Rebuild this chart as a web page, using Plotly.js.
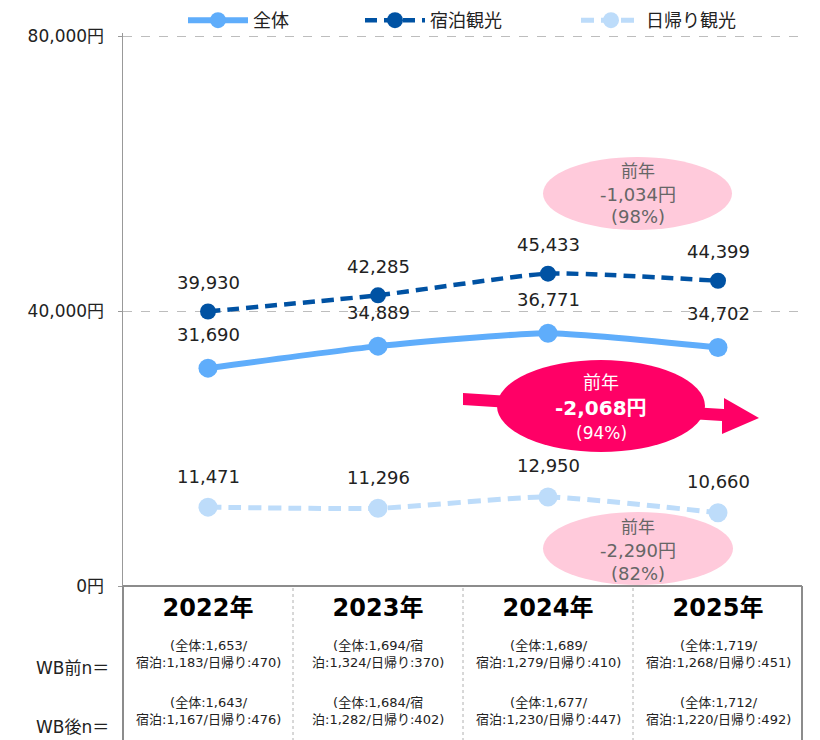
<!DOCTYPE html>
<html>
<head>
<meta charset="utf-8">
<script src="https://cdn.plot.ly/plotly-3.0.1.min.js"></script>
<style>html,body{margin:0;padding:0;background:#fff;}#chart{width:820px;height:740px;}</style>
</head>
<body>
<div id="chart"></div>
<script>
// ---- data ----
const years = ['2022年', '2023年', '2024年', '2025年'];
const seriesNames = ['全体', '宿泊観光', '日帰り観光'];
const allValues = [31690, 34889, 36771, 34702];
const stayValues = [39930, 42285, 45433, 44399];
const dayValues = [11471, 11296, 12950, 10660];
const yTicks = [0, 40000, 80000];
// sample sizes (WB前 / WB後)
const beforeAll = [1653, 1694, 1689, 1719];
const beforeStay = [1183, 1324, 1279, 1268];
const beforeDay = [470, 370, 410, 451];
const afterAll = [1643, 1684, 1677, 1712];
const afterStay = [1167, 1282, 1230, 1220];
const afterDay = [476, 402, 447, 492];
const breakInsideStay = [false, true, false, false];
const rowLabels = ['WB前n＝', 'WB後n＝'];
// year-over-year callouts
const callStay = ['前年', '-1,034円', '(98%)'];
const callAll = ['前年', '-2,068円', '(94%)'];
const callDay = ['前年', '-2,290円', '(82%)'];

// ---- helpers ----
const FONT = 'DejaVu Sans, Noto Sans CJK JP, sans-serif';
const L = 123, R = 803, T = 33, B = 586;
const px = p => (p - L) / (R - L);
const py = p => (B - p) / (B - T);
const fmt = v => v.toLocaleString('en-US');
function nText(a, s, d, brk) {
  return brk
    ? '(全体:' + fmt(a) + '/宿<br>泊:' + fmt(s) + '/日帰り:' + fmt(d) + ')'
    : '(全体:' + fmt(a) + '/<br>宿泊:' + fmt(s) + '/日帰り:' + fmt(d) + ')';
}
function path(points) {
  return 'M' + points.map(p => px(p[0]) + ',' + py(p[1])).join(' L') + ' Z';
}

const cAll = '#5FADFB', cStay = '#0052A3', cDay = '#BDDCFA';

const traces = [
  { x: years, y: allValues, name: seriesNames[0], type: 'scatter', mode: 'lines+markers', legend: 'legend',
    line: { color: cAll, width: 6, shape: 'spline', smoothing: 0.5 },
    marker: { color: cAll, size: 19 } },
  { x: years, y: stayValues, name: seriesNames[1], type: 'scatter', mode: 'lines+markers', legend: 'legend2',
    line: { color: cStay, width: 4.5, dash: '12px,7px', shape: 'spline', smoothing: 0.5 },
    marker: { color: cStay, size: 16 } },
  { x: years, y: dayValues, name: seriesNames[2], type: 'scatter', mode: 'lines+markers', legend: 'legend3',
    line: { color: cDay, width: 5, dash: '13px,7px', shape: 'spline', smoothing: 0.5 },
    marker: { color: cDay, size: 19 } }
];

const annotations = [];
// data labels
[[allValues, 34], [stayValues, 29], [dayValues, 31]].forEach(([vals, shift]) => {
  vals.forEach((v, i) => annotations.push({
    x: years[i], y: v, xref: 'x', yref: 'y', text: fmt(v), showarrow: false,
    xanchor: 'center', yanchor: 'middle',
    yshift: shift, font: { family: FONT, size: 18, color: '#222' }
  }));
});
// table texts
years.forEach((yr, i) => {
  annotations.push({ x: yr, xref: 'x', y: py(654), yref: 'paper', showarrow: false,
    xanchor: 'center', yanchor: 'middle',
    text: nText(beforeAll[i], beforeStay[i], beforeDay[i], breakInsideStay[i]),
    font: { family: FONT, size: 13, color: '#222' } });
  annotations.push({ x: yr, xref: 'x', y: py(711), yref: 'paper', showarrow: false,
    xanchor: 'center', yanchor: 'middle',
    text: nText(afterAll[i], afterStay[i], afterDay[i], breakInsideStay[i]),
    font: { family: FONT, size: 13, color: '#222' } });
});
annotations.push({ x: px(111), xref: 'paper', xanchor: 'right', y: py(668), yref: 'paper', yanchor: 'middle',
  showarrow: false, text: rowLabels[0], font: { family: FONT, size: 17, color: '#222' } });
annotations.push({ x: px(111), xref: 'paper', xanchor: 'right', y: py(727), yref: 'paper', yanchor: 'middle',
  showarrow: false, text: rowLabels[1], font: { family: FONT, size: 17, color: '#222' } });
// callouts
function callout(lines, cx, ys, color, boldMid, sizes) {
  lines.forEach((t, k) => annotations.push({
    x: px(cx), y: py(ys[k]), xref: 'paper', yref: 'paper', showarrow: false,
    xanchor: 'center', yanchor: 'middle',
    text: (boldMid && k === 1) ? '<b>' + t + '</b>' : t,
    font: { family: FONT, size: sizes[k], color: color }
  }));
}
callout(callStay, 638, [171, 194, 217], '#666', false, [17, 18, 18]);
callout(callDay, 638, [527, 550, 573], '#666', false, [17, 18, 18]);
callout(callAll, 601, [382, 408, 433], '#fff', true, [18, 20, 17]);

const shapes = [
  // pink ellipses
  { type: 'circle', xref: 'paper', yref: 'paper', layer: 'below',
    x0: px(543), x1: px(732), y0: py(230), y1: py(157), fillcolor: '#FFCADB', line: { width: 0 } },
  { type: 'circle', xref: 'paper', yref: 'paper', layer: 'below',
    x0: px(543), x1: px(733), y0: py(585), y1: py(512), fillcolor: '#FFCADB', line: { width: 0 } },
  // big arrow
  { type: 'path', xref: 'paper', yref: 'paper', fillcolor: '#FF0066', line: { width: 0 },
    path: path([[463, 393], [724, 409], [724, 398], [759, 418], [722, 434], [722, 421], [463, 405]]) },
  { type: 'circle', xref: 'paper', yref: 'paper',
    x0: px(497), x1: px(705), y0: py(452), y1: py(360), fillcolor: '#FF0066', line: { width: 0 } },
  // table borders
  { type: 'line', xref: 'paper', yref: 'paper', x0: 0, x1: 0, y0: 0, y1: py(740), line: { color: '#8c8c8c', width: 2 } },
  { type: 'line', xref: 'paper', yref: 'paper', x0: px(802), x1: px(802), y0: 0, y1: py(740), line: { color: '#8c8c8c', width: 2 } },
  { type: 'line', xref: 'paper', yref: 'paper', x0: 0, x1: px(802), y0: 0, y1: 0, line: { color: '#8c8c8c', width: 2 } }
];
[0.25, 0.5, 0.75].forEach(f => shapes.push({ type: 'line', xref: 'paper', yref: 'paper',
  x0: f, x1: f, y0: py(588), y1: py(740), line: { color: '#b0b0b0', width: 1, dash: 'dot' } }));

function legendAt(xpx) {
  return { orientation: 'h', x: px(xpx), xanchor: 'left', y: py(2), yanchor: 'top',
    font: { family: FONT, size: 18, color: '#222' }, itemwidth: 60, bgcolor: 'rgba(0,0,0,0)' };
}

const layout = {
  width: 820, height: 740,
  margin: { l: L, r: 820 - R, t: T, b: 740 - B, pad: 0, autoexpand: false },
  paper_bgcolor: '#fff', plot_bgcolor: '#fff',
  font: { family: FONT, size: 16, color: '#222' },
  showlegend: true,
  legend: legendAt(183),
  legend2: legendAt(360),
  legend3: legendAt(576),
  xaxis: { type: 'category', range: [-0.5, 3.5], showgrid: false, zeroline: false,
    showline: false, ticks: '', tickfont: { family: FONT, size: 24, weight: 'bold', color: '#000' },
    ticklabelstandoff: 5, fixedrange: true },
  yaxis: { range: [0, 80437], tickvals: yTicks, ticktext: yTicks.map(v => fmt(v) + '円'),
    showgrid: true, gridcolor: '#bdbdbd', griddash: 'dash', gridwidth: 1,
    zeroline: false, showline: true, linecolor: '#999', linewidth: 1.5,
    ticks: 'outside', ticklen: 4, tickcolor: '#999', ticklabelstandoff: 10,
    tickfont: { family: FONT, size: 17, color: '#222' }, fixedrange: true },
  shapes: shapes,
  annotations: annotations
};

Plotly.newPlot('chart', traces, layout, { displayModeBar: false, staticPlot: true });
</script>
</body>
</html>
